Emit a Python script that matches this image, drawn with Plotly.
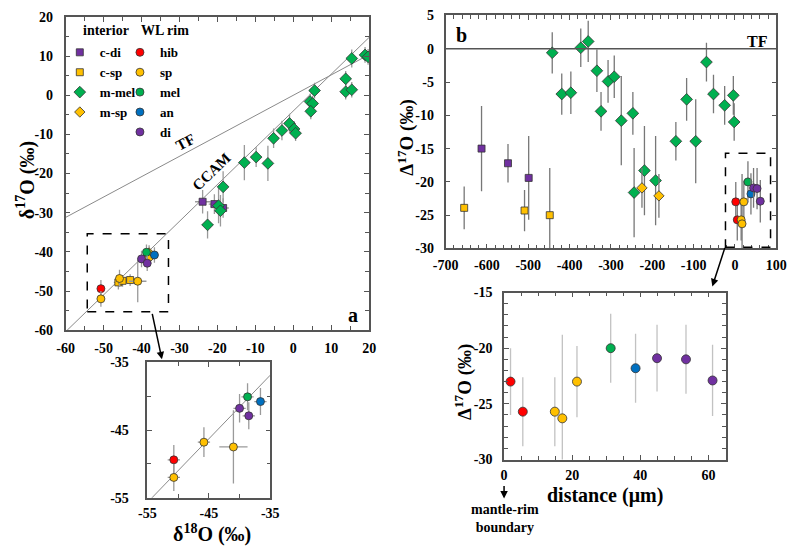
import plotly.graph_objects as go

# ---------------- data ----------------
# Panel a: d18O (x) vs d17O (y)
a_cdi_x = [-23.9, -20.8, -18.5]
a_cdi_y = [-27.2, -27.8, -28.8]
a_cdi_ex = [2.0, 1.5, 1.5]
a_cdi_ey = [3.0, 2.5, 2.5]

a_csp_x = [-46.1, -45.0, -43.0]
a_csp_y = [-47.8, -47.4, -47.2]
a_csp_ex = [1.2, 1.2, 1.5]
a_csp_ey = [1.8, 1.5, 1.5]

a_mmel_x = [15.4, 18.9, 19.7, 13.8, 13.8, 15.4, 5.6, 4.4, 5.1, 4.6, -1.0, -3.0, 0.2, 0.6,
            -5.2, -9.8, -12.9, -6.7, -18.5, -19.7, -19.2, -22.6]
a_mmel_y = [9.4, 10.3, 9.8, 4.2, 0.9, 1.4, 1.2, -1.6, -2.1, -4.1, -7.2, -9.0, -8.6, -9.7,
            -11.0, -15.8, -17.2, -17.4, -23.4, -28.2, -29.5, -33.1]
a_mmel_ex = [1.0, 1.0, 1.0, 1.0, 1.0, 1.0, 1.0, 1.0, 1.0, 1.0, 1.0, 1.0, 1.0, 1.0,
             1.0, 1.0, 1.5, 1.0, 1.0, 1.5, 1.5, 1.5]
a_mmel_ey = [2.3, 2.0, 2.0, 2.0, 2.0, 2.0, 2.0, 2.0, 2.0, 2.0, 2.5, 2.5, 2.0, 2.0,
             2.5, 2.5, 4.5, 4.5, 4.0, 4.5, 4.0, 3.5]

a_msp_x = [-38.0, -38.2]
a_msp_y = [-40.3, -41.7]
a_msp_ex = [1.0, 1.0]
a_msp_ey = [2.0, 2.0]

a_hib_x = [-50.7]
a_hib_y = [-49.4]
a_hib_ex = [1.0]
a_hib_ey = [2.2]

a_sp_x = [-50.7, -45.8, -41.0]
a_sp_y = [-52.0, -46.8, -47.5]
a_sp_ex = [1.0, 1.0, 2.3]
a_sp_ey = [2.0, 2.2, 5.4]

a_mel_x = [-38.7]
a_mel_y = [-40.1]
a_mel_ex = [1.0]
a_mel_ey = [2.0]

a_an_x = [-36.6]
a_an_y = [-40.8]
a_an_ex = [1.0]
a_an_ey = [2.0]

a_di_x = [-40.0, -38.5]
a_di_y = [-41.8, -42.9]
a_di_ex = [1.0, 1.0]
a_di_ey = [2.1, 2.0]

# reference lines
TF_SLOPE = 0.52
CCAM_SLOPE = 0.94
CCAM_INTERCEPT = -4.0
line_x = [-60, 20]
inset_line_x = [-55, -35]

# Panel b: distance (um) vs D17O
b_csp_x = [-655, -509, -448]
b_csp_y = [-23.9, -24.3, -25.0]
b_csp_e = [3.2, 3.1, 7.1]

b_cdi_x = [-613, -549, -499]
b_cdi_y = [-15.0, -17.2, -19.4]
b_cdi_e = [6.4, 2.9, 6.3]

b_mmel_x = [-442, -419, -397, -373, -355, -334, -324, -307, -292, -275, -247,
            -244, -219, -192, -143, -117, -95, -69, -52, -25, -4, -2]
b_mmel_y = [-0.6, -6.8, -6.6, 0.15, 1.1, -3.3, -9.4, -4.9, -4.2, -10.8, -9.7,
            -21.6, -18.3, -19.8, -13.9, -7.6, -13.9, -2.0, -6.8, -8.5, -7.0, -11.0]
b_mmel_e = [3.1, 3.1, 3.2, 2.9, 3.1, 3.2, 2.9, 3.2, 3.2, 6.7, 3.2,
            6.7, 6.7, 6.7, 2.9, 3.2, 6.3, 2.9, 2.9, 2.9, 2.9, 2.8]

b_msp_x = [-225, -184]
b_msp_y = [-20.9, -22.1]
b_msp_e = [3.0, 3.3]

# WL rim profile (panel b cluster and its inset)
rim_hib_x = [1.9, 5.5]
rim_hib_y = [-23.0, -25.7]
rim_hib_e = [3.0, 3.1]
rim_sp_x = [14.9, 17.1, 21.4]
rim_sp_y = [-25.7, -26.3, -23.0]
rim_sp_e = [3.1, 7.5, 3.2]
rim_mel_x = [31.3]
rim_mel_y = [-20.0]
rim_mel_e = [3.1]
rim_an_x = [38.6]
rim_an_y = [-21.8]
rim_an_e = [3.1]
rim_di_x = [44.9, 53.4, 61.2]
rim_di_y = [-20.9, -21.0, -22.9]
rim_di_e = [3.0, 3.1, 3.2]

# tick labels
a_ticks = [-60, -50, -40, -30, -20, -10, 0, 10, 20]
a_ticktext = ['-60', '-50', '-40', '-30', '-20', '-10', '0', '10', '20']
inset_a_ticks = [-55, -45, -35]
inset_a_ticktext = ['-55', '-45', '-35']
b_xticks = [-700, -600, -500, -400, -300, -200, -100, 0, 100]
b_xticktext = ['-700', '-600', '-500', '-400', '-300', '-200', '-100', '0', '100']
b_yticks = [-30, -25, -20, -15, -10, -5, 0, 5]
b_yticktext = ['-30', '-25', '-20', '-15', '-10', '-5', '0', '5']
inset_b_xticks = [0, 20, 40, 60]
inset_b_xticktext = ['0', '20', '40', '60']
inset_b_yticks = [-30, -25, -20, -15]
inset_b_yticktext = ['-30', '-25', '-20', '-15']

# ---------------- styles ----------------
PURPLE = '#7030A0'
YELLOW = '#FFC000'
GREEN = '#00B050'
RED = '#FF0000'
BLUE = '#0070C0'
FONT = 'Liberation Serif, serif'
EB = '#9a9a9a'
EBD = '#777777'

fig = go.Figure()


def add(x, y, ex, ey, name, color, symbol, size, xa, ya, legend, show, ebcol=EB):
    kw = {}
    if ex is not None:
        kw['error_x'] = dict(type='data', array=ex, color=ebcol, thickness=1.3, width=0)
    fig.add_trace(go.Scatter(
        x=x, y=y, mode='markers', name=name, legendgroup=name, showlegend=show,
        legend=legend, xaxis=xa, yaxis=ya,
        marker=dict(color=color, symbol=symbol, size=size, line=dict(color='#333', width=0.8)),
        error_y=dict(type='data', array=ey, color=ebcol, thickness=1.3, width=0), **kw))


# reference lines panel a
fig.add_trace(go.Scatter(x=line_x, y=[TF_SLOPE * v for v in line_x], mode='lines',
                         line=dict(color='#8a8a8a', width=1), showlegend=False,
                         xaxis='x', yaxis='y', hoverinfo='skip'))
fig.add_trace(go.Scatter(x=line_x, y=[CCAM_SLOPE * v + CCAM_INTERCEPT for v in line_x], mode='lines',
                         line=dict(color='#8a8a8a', width=1), showlegend=False,
                         xaxis='x', yaxis='y', hoverinfo='skip'))
fig.add_trace(go.Scatter(x=inset_line_x, y=[CCAM_SLOPE * v + CCAM_INTERCEPT for v in inset_line_x],
                         mode='lines', line=dict(color='#8a8a8a', width=1), showlegend=False,
                         xaxis='x3', yaxis='y3', hoverinfo='skip'))

# panel a
add(a_cdi_x, a_cdi_y, a_cdi_ex, a_cdi_ey, 'c-di', PURPLE, 'square', 7, 'x', 'y', 'legend', True)
add(a_csp_x, a_csp_y, a_csp_ex, a_csp_ey, 'c-sp', YELLOW, 'square', 7, 'x', 'y', 'legend', True)
add(a_mmel_x, a_mmel_y, a_mmel_ex, a_mmel_ey, 'm-mel', GREEN, 'diamond', 9, 'x', 'y', 'legend', True)
add(a_msp_x, a_msp_y, a_msp_ex, a_msp_ey, 'm-sp', YELLOW, 'diamond', 8, 'x', 'y', 'legend', True)
add(a_hib_x, a_hib_y, a_hib_ex, a_hib_ey, 'hib', RED, 'circle', 8, 'x', 'y', 'legend2', True)
add(a_sp_x, a_sp_y, a_sp_ex, a_sp_ey, 'sp', YELLOW, 'circle', 8, 'x', 'y', 'legend2', True)
add(a_mel_x, a_mel_y, a_mel_ex, a_mel_ey, 'mel', GREEN, 'circle', 8, 'x', 'y', 'legend2', True)
add(a_an_x, a_an_y, a_an_ex, a_an_ey, 'an', BLUE, 'circle', 8, 'x', 'y', 'legend2', True)
add(a_di_x, a_di_y, a_di_ex, a_di_ey, 'di', PURPLE, 'circle', 8, 'x', 'y', 'legend2', True)

# inset a
add(a_hib_x, a_hib_y, a_hib_ex, a_hib_ey, 'hib', RED, 'circle', 8, 'x3', 'y3', 'legend2', False)
add(a_sp_x, a_sp_y, a_sp_ex, a_sp_ey, 'sp', YELLOW, 'circle', 8, 'x3', 'y3', 'legend2', False)
add(a_mel_x, a_mel_y, a_mel_ex, a_mel_ey, 'mel', GREEN, 'circle', 8, 'x3', 'y3', 'legend2', False)
add(a_an_x, a_an_y, a_an_ex, a_an_ey, 'an', BLUE, 'circle', 8, 'x3', 'y3', 'legend2', False)
add(a_di_x, a_di_y, a_di_ex, a_di_ey, 'di', PURPLE, 'circle', 8, 'x3', 'y3', 'legend2', False)

# panel b
add(b_csp_x, b_csp_y, None, b_csp_e, 'c-sp', YELLOW, 'square', 7, 'x2', 'y2', 'legend', False, EBD)
add(b_cdi_x, b_cdi_y, None, b_cdi_e, 'c-di', PURPLE, 'square', 7, 'x2', 'y2', 'legend', False, EBD)
add(b_mmel_x, b_mmel_y, None, b_mmel_e, 'm-mel', GREEN, 'diamond', 9, 'x2', 'y2', 'legend', False, EBD)
add(b_msp_x, b_msp_y, None, b_msp_e, 'm-sp', YELLOW, 'diamond', 8, 'x2', 'y2', 'legend', False, EBD)
add(rim_hib_x, rim_hib_y, None, rim_hib_e, 'hib', RED, 'circle', 8, 'x2', 'y2', 'legend2', False, EBD)
add(rim_sp_x, rim_sp_y, None, rim_sp_e, 'sp', YELLOW, 'circle', 8, 'x2', 'y2', 'legend2', False, EBD)
add(rim_mel_x, rim_mel_y, None, rim_mel_e, 'mel', GREEN, 'circle', 8, 'x2', 'y2', 'legend2', False, EBD)
add(rim_an_x, rim_an_y, None, rim_an_e, 'an', BLUE, 'circle', 8, 'x2', 'y2', 'legend2', False, EBD)
add(rim_di_x, rim_di_y, None, rim_di_e, 'di', PURPLE, 'circle', 8, 'x2', 'y2', 'legend2', False, EBD)

# inset b
add(rim_hib_x, rim_hib_y, None, rim_hib_e, 'hib', RED, 'circle', 9, 'x4', 'y4', 'legend2', False, '#c2c2c2')
add(rim_sp_x, rim_sp_y, None, rim_sp_e, 'sp', YELLOW, 'circle', 9, 'x4', 'y4', 'legend2', False, '#c2c2c2')
add(rim_mel_x, rim_mel_y, None, rim_mel_e, 'mel', GREEN, 'circle', 9, 'x4', 'y4', 'legend2', False, '#c2c2c2')
add(rim_an_x, rim_an_y, None, rim_an_e, 'an', BLUE, 'circle', 9, 'x4', 'y4', 'legend2', False, '#c2c2c2')
add(rim_di_x, rim_di_y, None, rim_di_e, 'di', PURPLE, 'circle', 9, 'x4', 'y4', 'legend2', False, '#c2c2c2')

W, H = 800, 550
OFF = 8  # page body margin


def px(v):
    return (v - OFF) / W


def py(v):
    return 1 - (v - OFF) / H


tickfont = dict(family=FONT, size=14, color='black', weight=700)


def axis(domain, rng, tv, tt, minor, standoff):
    d = dict(domain=domain, range=rng, tickmode='array', tickvals=tv,
             ticktext=['<b>%s</b>' % t for t in tt],
             showgrid=False, zeroline=False,
             showline=True, linecolor='#555', linewidth=1.5, mirror='ticks',
             ticks='inside', ticklen=5, tickcolor='#555', tickwidth=1,
             tickfont=dict(tickfont), ticklabelstandoff=standoff)
    if minor:
        d['minor'] = dict(dtick=minor, ticks='inside', ticklen=4, tickcolor='#555', showgrid=False)
    return d


xa1 = axis([px(54), px(367)], [-60, 20], a_ticks, a_ticktext, 5, 4)
ya1 = axis([py(332), py(10)], [-60, 20], a_ticks, a_ticktext, 5, 8)
xa2 = axis([px(445.7), px(786.7)], [-700, 100], b_xticks, b_xticktext, 20, 3)
ya2 = axis([py(248), py(8.5)], [-30, 5], b_yticks, b_yticktext, None, 7)
xa3 = axis([px(138.3), px(265)], [-55, -35], inset_a_ticks, inset_a_ticktext, 5, 2)
ya3 = axis([py(504.3), py(365)], [-55, -35], inset_a_ticks, inset_a_ticktext, 5, 14)
xa4 = axis([px(506), px(734.3)], [0, 65], inset_b_xticks, inset_b_xticktext, 5, 2)
ya4 = axis([py(465), py(293.3)], [-30, -15], inset_b_yticks, inset_b_yticktext, 1, 7)

xa1['anchor'] = 'y'; ya1['anchor'] = 'x'
xa2['anchor'] = 'y2'; ya2['anchor'] = 'x2'
xa3['anchor'] = 'y3'; ya3['anchor'] = 'x3'
xa4['anchor'] = 'y4'; ya4['anchor'] = 'x4'

shapes = [
    dict(type='rect', xref='x', yref='y', x0=-54.3, x1=-32.9, y0=-55.3, y1=-35.4,
         line=dict(color='black', width=1.5, dash='dash')),
    dict(type='rect', xref='x2', yref='y2', x0=-23, x1=86, y0=-29.8, y1=-15.7,
         line=dict(color='black', width=1.5, dash='dash')),
    dict(type='line', xref='x2 domain', yref='y2', x0=0, x1=1, y0=0, y1=0,
         line=dict(color='#555', width=1.5)),
]


def ann(text, x, y, size=14, angle=0, xanchor='center'):
    return dict(text=text, x=px(x), y=py(y), xref='paper', yref='paper', showarrow=False,
                textangle=angle, xanchor=xanchor, yanchor='middle',
                font=dict(family=FONT, size=size, color='black', weight=700))


annotations = [
    ann('<b>interior</b>', 70, 24, 14, xanchor='left'),
    ann('<b>WL rim</b>', 130, 24, 14, xanchor='left'),
    ann('<b>TF</b>', 178, 139, 15, -28),
    ann('<b>CCAM</b>', 204, 169, 15, -44),
    ann('<b>a</b>', 350, 316, 20),
    ann('<b>b</b>', 462, 29, 20),
    ann('<b>TF</b>', 767, 35, 16),
    ann('<b>δ<sup>17</sup>O (‰)</b>', 13, 178, 20, -90),
    ann('<b>Δ<sup>17</sup>O (‰)</b>', 405, 134, 19, -90),
    ann('<b>Δ<sup>17</sup>O (‰)</b>', 464, 385, 19, -90),
    ann('<b>δ<sup>18</sup>O (‰)</b>', 205, 541, 20),
    ann('<b>distance (μm)</b>', 610, 502, 20),
    ann('<b>mantle-rim<br>boundary</b>', 507, 526, 14),
    # arrows
    dict(x=px(153.3), y=py(362), xref='paper', yref='paper', ax=-10, ay=-47,
         showarrow=True, arrowhead=2, arrowsize=1, arrowwidth=1.5, arrowcolor='black', text=''),
    dict(x=px(720.7), y=py(287), xref='paper', yref='paper', ax=13, ay=-40,
         showarrow=True, arrowhead=2, arrowsize=1, arrowwidth=1.5, arrowcolor='black', text=''),
    dict(x=px(506), y=py(505), xref='paper', yref='paper', ax=0, ay=-14,
         showarrow=True, arrowhead=2, arrowsize=1, arrowwidth=1.5, arrowcolor='black', text=''),
]

legfont = dict(family=FONT, size=13, color='black', weight=700)
fig.update_layout(
    width=W, height=H, margin=dict(l=0, r=0, t=0, b=0),
    paper_bgcolor='white', plot_bgcolor='white',
    font=dict(family=FONT, weight=700, color='black'),
    xaxis=xa1, yaxis=ya1, xaxis2=xa2, yaxis2=ya2, xaxis3=xa3, yaxis3=ya3, xaxis4=xa4, yaxis4=ya4,
    shapes=shapes, annotations=annotations,
    legend=dict(x=px(48), y=py(31), xanchor='left', yanchor='top', bgcolor='rgba(0,0,0,0)',
                font=legfont, tracegroupgap=0),
    legend2=dict(x=px(110), y=py(31), xanchor='left', yanchor='top', bgcolor='rgba(0,0,0,0)',
                 font=legfont, tracegroupgap=0),
    showlegend=True,
)

fig.write_html('out.html')
